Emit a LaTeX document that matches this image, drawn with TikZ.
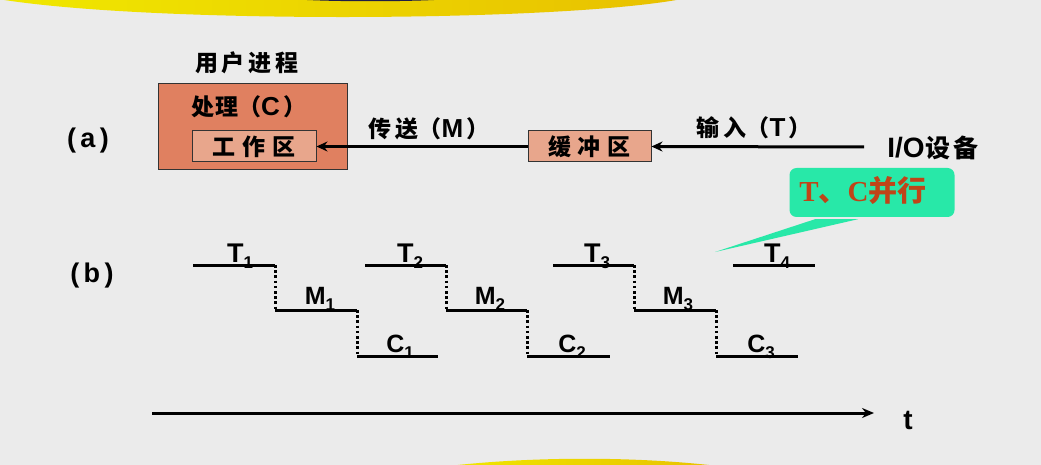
\documentclass[tikz,border=0pt]{standalone}
\usepackage{fontspec}
\newfontfamily\cjk{Noto Sans CJK SC}
\newfontfamily\lab{Liberation Sans}
\newfontfamily\ser{Liberation Serif}
\usetikzlibrary{arrows.meta}
\definecolor{bg}{RGB}{235,235,235}
\definecolor{outerfill}{RGB}{224,128,96}
\definecolor{innerfill}{RGB}{232,166,140}
\definecolor{callout}{RGB}{40,232,168}
\definecolor{callouttext}{RGB}{192,68,24}
\definecolor{yellowA}{RGB}{240,232,0}
\definecolor{yellowB}{RGB}{232,192,0}
\definecolor{navy}{RGB}{30,30,70}
\newcommand\cg{\hspace{4pt}}
\newcommand\lt[1]{{\lab\bfseries #1}}
\newcommand\sublab[2]{#1\raisebox{-6pt}{\fontsize{17}{17}\selectfont #2}}
\begin{document}
\begin{tikzpicture}[x=1pt,y=-1pt,
  box/.style={draw=black!80, line width=1pt, inner sep=0pt},
  cjktext/.style={font=\cjk\bfseries\fontsize{23}{23}\selectfont, inner sep=0pt},
  arr/.style={line width=3pt, -{Stealth[length=11pt,width=10pt]}},
  stepline/.style={line width=3pt, black},
  dotline/.style={line width=3pt, black, dash pattern=on 2.6pt off 2.6pt},
  tlab/.style={font=\lab\bfseries\fontsize{27}{27}\selectfont, inner sep=0pt, anchor=base},
  mlab/.style={font=\lab\bfseries\fontsize{25}{25}\selectfont, inner sep=0pt, anchor=base}]
\useasboundingbox (0,0) rectangle (1041,465);
\fill[bg] (0,0) rectangle (1041,465);
\clip (0,0) rectangle (1041,465);
% decorative yellow arcs
\shade[left color=yellowA, right color=yellowB] (-2,-1) .. controls (150,24) and (560,22) .. (682,-1) -- cycle;
\fill[navy] (290,-1) .. controls (330,2) and (410,2) .. (452,-1) -- cycle;
\shade[left color=yellowA, right color=yellowB] (440,467) .. controls (530,456) and (640,456) .. (726,467) -- cycle;

% (a) part
\node[cjktext, font=\lab\bfseries\fontsize{27}{27}\selectfont] (la) at (88,141) {(\,a\,)};
\node[cjktext] (uproc) at (247,63) {用\cg 户\cg 进\cg 程};
\node[box, fill=outerfill, minimum width=189pt, minimum height=86pt] (outer) at (252.5,127) {};
\node[cjktext] (proc) at (249,107) {处\hspace{1pt}理（\lt{\fontsize{26}{26}\selectfont C}\hspace{4pt}）};
\node[box, fill=innerfill, minimum width=124pt, minimum height=31pt] (inner) at (254,146.5) {};
\node[cjktext, font=\cjk\bfseries\fontsize{23}{23}\selectfont] (work) at (inner) {工\hspace{7pt}作\hspace{7pt}区};
\node[box, fill=innerfill, minimum width=123pt, minimum height=31pt] (buf) at (589.5,146.5) {};
\node[cjktext, font=\cjk\bfseries\fontsize{23}{23}\selectfont] (buft) at (buf) {缓\hspace{7pt}冲\hspace{7pt}区};
\node[cjktext, font=\cjk\bfseries\fontsize{25}{25}\selectfont] (io) at (933,148) {\lt{\fontsize{28}{28}\selectfont I/O}\hspace{1pt}设\hspace{3pt}备};
\coordinate (ioend) at (864,147);
\draw[arr] (ioend) -- (buf.east);
\draw[arr] (buf.west) -- (inner.east);
\node[cjktext] (mlabel) at (429,129) {传\cg 送（\lt{\fontsize{26}{26}\selectfont M}\hspace{3pt}）};
\node[cjktext] (tlabel) at (754,128) {输\cg 入（\lt{\fontsize{26}{26}\selectfont T}\hspace{3pt}）};

% callout
\node[fill=callout, rounded corners=7pt, minimum width=165pt, minimum height=49pt, inner sep=0pt] (call) at (872,192.5) {};
\node[inner sep=0pt, font=\fontsize{29}{29}\selectfont, text=callouttext] (callt) at (863,191)
      {{\ser\bfseries T}{\cjk\bfseries 、}{\ser\bfseries C}{\cjk\bfseries 并行}};
\coordinate (tip) at (715,252);
\fill[callout] ([xshift=-57pt,yshift=-2pt]call.south) -- (tip) -- ([xshift=-14pt,yshift=-2pt]call.south) -- cycle;

% (b) timing diagram
\node[cjktext, font=\lab\bfseries\fontsize{27}{27}\selectfont] (lb) at (92,276) {(\,b\,)};
% stage 1
\draw[stepline] (193,265) -- (275,265);
\draw[dotline] (275,265) -- (275,310);
\draw[stepline] (275,310) -- (357,310);
\draw[dotline] (357,310) -- (357,356);
\draw[stepline] (357,356) -- (438,356);
% stage 2
\draw[stepline] (365,265) -- (446,265);
\draw[dotline] (446,265) -- (446,310);
\draw[stepline] (446,310) -- (527,310);
\draw[dotline] (527,310) -- (527,356);
\draw[stepline] (527,356) -- (610,356);
% stage 3
\draw[stepline] (553,265) -- (634,265);
\draw[dotline] (634,265) -- (634,310);
\draw[stepline] (634,310) -- (716,310);
\draw[dotline] (716,310) -- (716,356);
\draw[stepline] (716,356) -- (798,356);
% stage 4
\draw[stepline] (733,265) -- (815,265);

\node[tlab] (t1) at (240,262) {\sublab{T}{1}};
\node[tlab] (t2) at (410,262) {\sublab{T}{2}};
\node[tlab] (t3) at (597,262) {\sublab{T}{3}};
\node[tlab] (t4) at (777,262) {\sublab{T}{4}};
\node[mlab] (m1) at (320,304) {\sublab{M}{1}};
\node[mlab] (m2) at (490,304) {\sublab{M}{2}};
\node[mlab] (m3) at (678,304) {\sublab{M}{3}};
\node[mlab] (c1) at (400,352) {\sublab{C}{1}};
\node[mlab] (c2) at (572,352) {\sublab{C}{2}};
\node[mlab] (c3) at (761,352) {\sublab{C}{3}};

% time axis
\coordinate (axs) at (152,413);
\coordinate (axe) at (874,413);
\draw[line width=3pt, -{Stealth[length=12pt,width=10pt]}] (axs) -- (axe);
\node[font=\lab\bfseries\fontsize{28}{28}\selectfont, inner sep=0pt] (tt) at (908,420) {t};
\end{tikzpicture}
\end{document}
